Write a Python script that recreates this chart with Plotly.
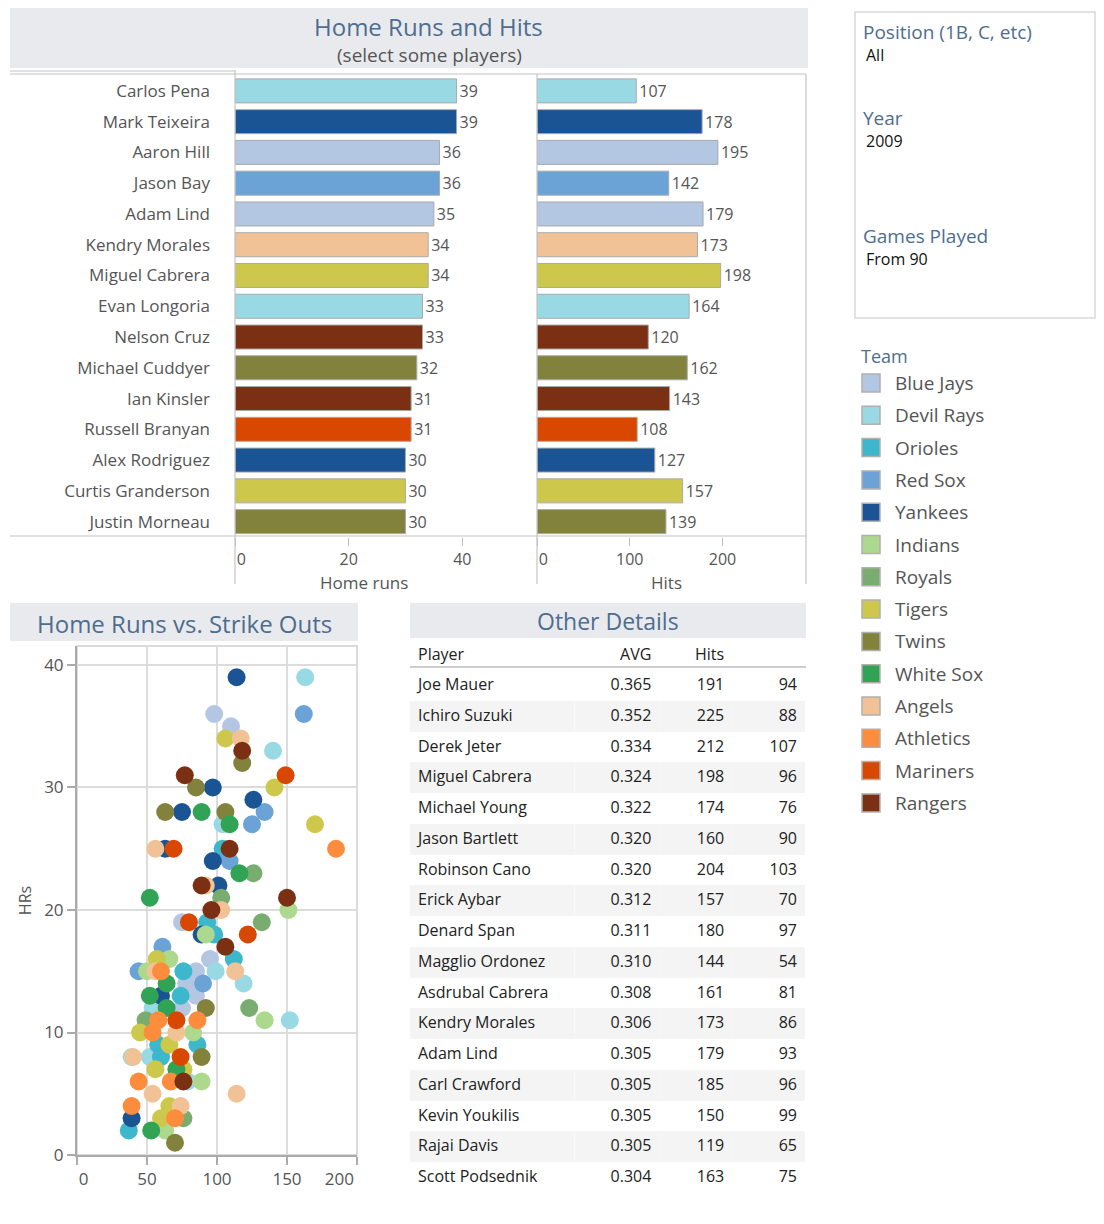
import plotly.graph_objects as go

# ---------------- data ----------------
teams = ["Blue Jays", "Devil Rays", "Orioles", "Red Sox", "Yankees", "Indians", "Royals",
         "Tigers", "Twins", "White Sox", "Angels", "Athletics", "Mariners", "Rangers"]
team_colors = ["#b3c6e2", "#99d9e3", "#3cb7cc", "#6ba3d6", "#1b5494", "#acd98d", "#79ad70",
               "#cdc84c", "#82823d", "#31a354", "#f2c297", "#fd8d3c", "#d94801", "#7b2f13"]

bar_players = ["Carlos Pena", "Mark Teixeira", "Aaron Hill", "Jason Bay", "Adam Lind",
               "Kendry Morales", "Miguel Cabrera", "Evan Longoria", "Nelson Cruz",
               "Michael Cuddyer", "Ian Kinsler", "Russell Branyan", "Alex Rodriguez",
               "Curtis Granderson", "Justin Morneau"]
bar_team = ["Devil Rays", "Yankees", "Blue Jays", "Red Sox", "Blue Jays", "Angels", "Tigers",
            "Devil Rays", "Rangers", "Twins", "Rangers", "Mariners", "Yankees", "Tigers", "Twins"]
bar_hr = [39, 39, 36, 36, 35, 34, 34, 33, 33, 32, 31, 31, 30, 30, 30]
bar_hits = [107, 178, 195, 142, 179, 173, 198, 164, 120, 162, 143, 108, 127, 157, 139]

# scatter: team, strike outs, home runs
sc_team = ["Yankees", "Devil Rays", "Red Sox", "Blue Jays", "Blue Jays", "Tigers", "Angels",
           "Rangers", "Twins", "Devil Rays", "Mariners", "Rangers", "Twins", "Yankees", "Tigers",
           "Yankees", "Red Sox", "Twins", "Yankees", "White Sox", "Twins", "White Sox",
           "Devil Rays", "Red Sox", "Tigers", "Athletics", "Yankees", "Angels", "Mariners",
           "Rangers", "Orioles", "Yankees", "Red Sox", "White Sox", "Royals", "Rangers", "Angels",
           "Yankees", "Royals", "White Sox", "Rangers", "Indians", "Rangers", "Angels", "Royals",
           "Blue Jays", "Mariners", "Orioles", "Mariners", "Yankees", "Orioles", "Indians",
           "Rangers", "Red Sox", "Tigers", "Indians", "Blue Jays", "Orioles", "Red Sox",
           "Indians", "Athletics", "Angels", "Orioles", "Blue Jays", "Devil Rays", "Angels",
           "White Sox", "Blue Jays", "Red Sox", "Devil Rays", "White Sox", "Yankees", "Orioles",
           "Blue Jays", "White Sox", "Devil Rays", "Blue Jays", "Twins", "Royals", "Royals",
           "Athletics", "Mariners", "Athletics", "Indians", "Devil Rays", "Tigers", "Athletics",
           "Angels", "Indians", "Orioles", "Tigers", "Orioles", "Devil Rays", "Angels",
           "Devil Rays", "Orioles", "Mariners", "Twins", "Tigers", "White Sox", "Tigers",
           "Athletics", "Athletics", "Rangers", "Devil Rays", "Indians", "Angels", "Angels",
           "Athletics", "Tigers", "Angels", "Yankees", "Tigers", "Royals", "Athletics",
           "Orioles", "White Sox", "Indians", "Twins"]
sc_so = [114, 163, 162, 98, 110, 106, 117,
         118, 118, 140, 149, 77, 85, 97, 141,
         126, 134, 63, 75, 89, 106, 109,
         104, 125, 170, 185, 63, 56, 69,
         109, 104, 97, 109, 116, 126, 89, 92,
         101, 103, 52, 150, 151, 96, 103, 132,
         75, 80, 93, 122, 89, 98, 92,
         106, 61, 57, 66, 95, 112, 44,
         50, 60, 56, 76, 85, 99, 113,
         64, 78, 90, 119, 52, 60, 74,
         85, 64, 54, 75, 92, 123, 49,
         58, 71, 86, 134, 152, 45, 54,
         71, 83, 58, 66, 86, 39, 40,
         52, 60, 74, 89, 56, 71, 76,
         44, 67, 76, 79, 89, 54, 114,
         39, 66, 74, 39, 60, 76, 70,
         37, 53, 63, 70]
sc_hr = [39, 39, 36, 36, 35, 34, 34,
         33, 32, 33, 31, 31, 30, 30, 30,
         29, 28, 28, 28, 28, 28, 27,
         27, 27, 27, 25, 25, 25, 25,
         25, 25, 24, 24, 23, 23, 22, 22,
         22, 21, 21, 21, 20, 20, 20, 19,
         19, 19, 19, 18, 18, 18, 18,
         17, 17, 16, 16, 16, 16, 15,
         15, 15, 15, 15, 15, 15, 15,
         14, 14, 14, 14, 13, 13, 13,
         13, 12, 12, 12, 12, 12, 11,
         11, 11, 11, 11, 11, 10, 10,
         10, 10, 9, 9, 9, 8, 8,
         8, 8, 8, 8, 7, 7, 7,
         6, 6, 6, 6, 6, 5, 5,
         4, 4, 4, 3, 3, 3, 3,
         2, 2, 2, 1]

tbl_player = ["Joe Mauer", "Ichiro Suzuki", "Derek Jeter", "Miguel Cabrera", "Michael Young",
              "Jason Bartlett", "Robinson Cano", "Erick Aybar", "Denard Span", "Magglio Ordonez",
              "Asdrubal Cabrera", "Kendry Morales", "Adam Lind", "Carl Crawford", "Kevin Youkilis",
              "Rajai Davis", "Scott Podsednik"]
tbl_avg = ["0.365", "0.352", "0.334", "0.324", "0.322", "0.320", "0.320", "0.312", "0.311",
           "0.310", "0.308", "0.306", "0.305", "0.305", "0.305", "0.305", "0.304"]
tbl_hits = [191, 225, 212, 198, 174, 160, 204, 157, 180, 144, 161, 173, 179, 185, 150, 119, 163]
tbl_rbi = [94, 88, 107, 96, 76, 90, 103, 70, 97, 54, 81, 86, 93, 96, 99, 65, 75]

filter_labels = ["Position (1B, C, etc)", "Year", "Games Played"]
filter_values = ["All", "2009", "From 90"]

# ---------------- styling ----------------
OFF = 8                      # page offset of the plot div
W, H = 1104 - 2 * OFF, 1224 - 2 * OFF
FONT = "Open Sans"
SLATE = "#4e6d8f"
TXT = "#555555"
BAND = "#e9eaee"
LINE = "#c4c4c4"
NB = "\u00a0"
color_of = dict(zip(teams, team_colors))


def fx(x):
    return (x - OFF) / W


def fy(y):
    return 1 - (y - OFF) / H


fig = go.Figure()

# bars
for vals, ax in [(bar_hr, "x"), (bar_hits, "x2")]:
    fig.add_trace(go.Bar(orientation="h", y=bar_players, x=vals, xaxis=ax, yaxis="y",
                         marker=dict(color=[color_of[t] for t in bar_team], line=dict(color="#a9a9a9", width=1)),
                         text=vals, textposition="outside", cliponaxis=False,
                         textfont=dict(size=16, color=TXT), showlegend=False))

# scatter
for t in teams:
    xs = [s for s, tt in zip(sc_so, sc_team) if tt == t]
    ys = [h for h, tt in zip(sc_hr, sc_team) if tt == t]
    fig.add_trace(go.Scatter(x=xs, y=ys, mode="markers", name=t, xaxis="x3", yaxis="y3",
                             marker=dict(size=18, color=color_of[t], line=dict(width=0)),
                             showlegend=False))

# table
fills = ["white" if i % 2 == 0 else "#f4f4f4" for i in range(len(tbl_player))]
fig.add_trace(go.Table(
    domain=dict(x=[fx(410), fx(806)], y=[fy(1198), fy(640)]),
    columnwidth=[165, 85, 73, 73],
    header=dict(values=["Player", "AVG", "Hits", ""], align=["left", "right", "right", "right"],
                font=dict(family=FONT, size=16, color="#222"), fill_color="white",
                line=dict(width=0, color="white"), height=30),
    cells=dict(values=[tbl_player, tbl_avg, tbl_hits, tbl_rbi], align=["left", "right", "right", "right"],
               font=dict(family=FONT, size=16, color="#222"), fill_color=[fills] * 4,
               line=dict(width=0, color="white"), height=30.75),
))

shapes = []
annotations = []

# header bands
for (x0, y0, x1, y1) in [(10, 4, 808, 68), (10, 603, 358, 641), (410, 603, 806, 638)]:
    shapes.append(dict(type="rect", xref="paper", yref="paper", x0=fx(x0), x1=fx(x1), y0=fy(y1), y1=fy(y0),
                       fillcolor=BAND, line=dict(width=0), layer="below"))


def text(x, y, s, size, color, xanchor="center"):
    annotations.append(dict(x=fx(x), y=fy(y), xref="paper", yref="paper", text=s, showarrow=False,
                            xanchor=xanchor, yanchor="middle", font=dict(family=FONT, size=size, color=color)))


text(428, 26, "Home Runs and Hits", 24, SLATE)
text(429, 55, "(select some players)", 19, TXT)
text(184, 623, "Home Runs vs. Strike Outs", 24, SLATE)
text(608, 621, "Other Details", 23, SLATE)
# bar chart axis titles
text(364, 582, "Home runs", 17, TXT)
text(666, 582, "Hits", 17, TXT)


def hline(y, x0, x1, color=LINE, w=1.2):
    shapes.append(dict(type="line", xref="paper", yref="paper", x0=fx(x0), x1=fx(x1), y0=fy(y), y1=fy(y),
                       line=dict(color=color, width=w)))


def vline(x, y0, y1, color=LINE, w=1.2):
    shapes.append(dict(type="line", xref="paper", yref="paper", x0=fx(x), x1=fx(x), y0=fy(y0), y1=fy(y1),
                       line=dict(color=color, width=w)))


# bar chart frame lines
hline(71, 10, 235)
hline(74, 10, 806)
hline(536, 10, 806)
vline(235, 70, 584)
vline(537, 74, 584)
vline(806, 74, 584)

# scatter frame
shapes.append(dict(type="rect", xref="paper", yref="paper", x0=fx(77), x1=fx(357), y0=fy(1155), y1=fy(646),
                   line=dict(color="#cfcfcf", width=1.5), layer="below"))
# table header underline
hline(667, 410, 806, "#bdbdbd", 1.5)

# filter box
shapes.append(dict(type="rect", xref="paper", yref="paper", x0=fx(855), x1=fx(1095), y0=fy(318), y1=fy(12),
                   line=dict(color="#d9d9d9", width=1.5)))
for lab, val, yl in zip(filter_labels, filter_values, [32, 118, 236]):
    text(861, yl, lab, 19, SLATE, "left")
    text(864, yl + 23, val, 16, "#111", "left")

# legend
text(859, 356, "Team", 18, SLATE, "left")
for i, (t, c) in enumerate(zip(teams, team_colors)):
    yc = 383 + i * 32.3
    shapes.append(dict(type="rect", xref="paper", yref="paper", x0=fx(862), x1=fx(880),
                       y0=fy(yc + 9), y1=fy(yc - 9), fillcolor=c, line=dict(color="#b0b0b0", width=1.5)))
    text(893, yc, t, 19, TXT, "left")

axis_common = dict(automargin=False, fixedrange=True, zeroline=False)

fig.update_layout(
    template="none",
    width=W, height=H, autosize=False, margin=dict(l=0, r=0, t=0, b=0, pad=0),
    paper_bgcolor="white", plot_bgcolor="rgba(0,0,0,0)",
    font=dict(family=FONT, size=16, color=TXT),
    bargap=0.22, showlegend=False,
    shapes=shapes, annotations=annotations,
    xaxis=dict(domain=[fx(235), fx(535)], anchor="y", range=[0, 52.8],
               tickvals=[0, 20, 40], ticktext=[NB * 3 + "0", "20", "40"],
               ticks="outside", ticklen=8, tickcolor="#bbb", showgrid=False, showline=False,
               tickfont=dict(size=16, color=TXT), **axis_common),
    xaxis2=dict(domain=[fx(537), fx(806)], anchor="y", range=[0, 290],
                tickvals=[0, 100, 200], ticktext=[NB * 3 + "0", "100", "200"],
                ticks="outside", ticklen=8, tickcolor="#bbb", showgrid=False, showline=False,
                tickfont=dict(size=16, color=TXT), **axis_common),
    yaxis=dict(domain=[fy(537), fy(75.5)], anchor="x", type="category", categoryorder="array",
               categoryarray=bar_players, autorange="reversed", showgrid=False,
               showline=False, ticks="", ticklabelstandoff=24, tickfont=dict(size=17, color=TXT), **axis_common),
    xaxis3=dict(domain=[fx(77), fx(357)], anchor="y3", range=[0, 200],
                tickvals=[0, 50, 100, 150, 200], ticktext=[NB * 3 + "0", "50", "100", "150", "200" + NB * 8],
                showgrid=True, gridcolor="#dcdcdc", gridwidth=1.5,
                showline=True, linecolor="#ababab", linewidth=2,
                ticks="outside", ticklen=8, tickcolor="#ababab", tickwidth=1.5,
                tickfont=dict(size=17, color=TXT), **axis_common),
    yaxis3=dict(domain=[fy(1155), fy(646)], anchor="x3", range=[0, 41.55],
                tickvals=[0, 10, 20, 30, 40],
                showgrid=True, gridcolor="#dcdcdc", gridwidth=1.5,
                showline=True, linecolor="#ababab", linewidth=2,
                ticks="outside", ticklen=8, tickcolor="#ababab", tickwidth=1.5,
                tickfont=dict(size=17, color=TXT),
                title=dict(text="HRs", font=dict(size=16, color=TXT), standoff=9), **axis_common),
)

fig.write_html("out.html", config={"responsive": False})
